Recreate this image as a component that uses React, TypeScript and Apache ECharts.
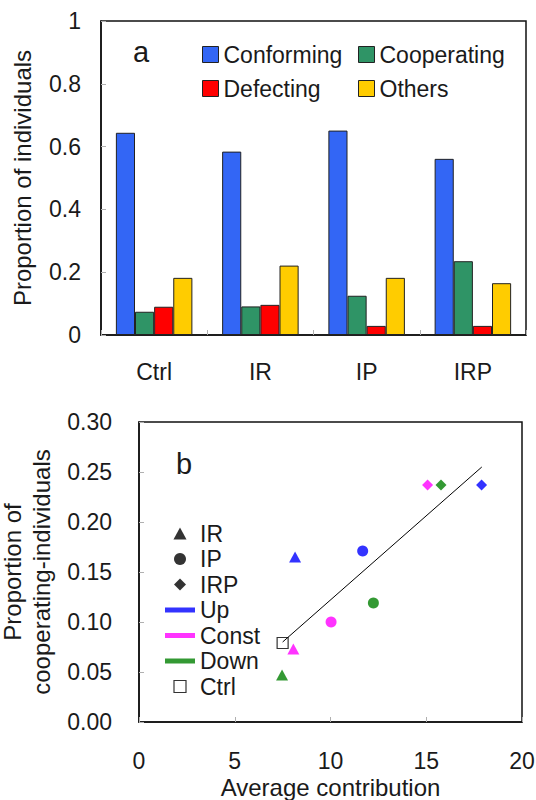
import React, { useEffect, useRef } from "react";
import * as echarts from "echarts";

// ---------- Panel a data ----------
const groups = ["Ctrl", "IR", "IP", "IRP"];
const conforming = [0.644, 0.584, 0.651, 0.561];
const cooperating = [0.074, 0.091, 0.125, 0.235];
const defecting = [0.090, 0.096, 0.029, 0.029];
const others = [0.182, 0.221, 0.182, 0.165];

// ---------- Panel b data (order: Up, Const, Down) ----------
const treatmentNames = ["Up", "Const", "Down"];
const irContribution = [8.15, 8.06, 7.47];
const irCooperation = [0.165, 0.073, 0.047];
const ipContribution = [11.68, 10.03, 12.24];
const ipCooperation = [0.171, 0.1, 0.119];
const irpContribution = [17.89, 15.07, 15.77];
const irpCooperation = [0.237, 0.237, 0.237];
const ctrlContribution = [7.5];
const ctrlCooperation = [0.079];
const fitX = [7.5, 17.9];
const fitY = [0.08, 0.255];

const FONT = "Liberation Sans, Arial, Helvetica, sans-serif";
const TXT = "#1a1a1a";
const treatColors = ["#0000ff", "#ff00ff", "#008000"];

const TRI = "path://M6,0L12,11L0,11Z";
const DIA = "path://M6,0L12,6L6,12L0,6Z";
const SQR = "path://M0,0H10V10H0Z";
const BAR = "path://M0,0H30V5H0Z";

function pts(xs: number[], ys: number[]) {
  return xs.map((x, i) => ({
    value: [x, ys[i]],
    itemStyle: { color: treatColors[i] },
  }));
}

export default function App() {
  const ref = useRef<HTMLDivElement>(null);
  useEffect(() => {
    if (!ref.current) return;
    const chart = echarts.init(ref.current, undefined, { renderer: "svg" });
    const tick = { show: true, inside: true, length: 5, lineStyle: { color: "#b0b0b0", width: 1 } };
    const barBorder = { borderColor: "#222", borderWidth: 1 };
    chart.setOption({
      animation: false,
      backgroundColor: "#fff",
      textStyle: { fontFamily: FONT },
      title: [
        { text: "a", left: 133, top: 37, padding: 0, textStyle: { fontSize: 29, fontWeight: "normal", color: TXT, fontFamily: FONT } },
        { text: "b", left: 176, top: 449, padding: 0, textStyle: { fontSize: 29, fontWeight: "normal", color: TXT, fontFamily: FONT } },
      ],
      grid: [
        { left: 101, top: 21, width: 425, height: 314, show: true, borderColor: "#111", borderWidth: 1.5, backgroundColor: "#fff", outerBoundsMode: "none", containLabel: false },
        { left: 139, top: 422, width: 383, height: 300, show: true, borderColor: "#111", borderWidth: 1.5, backgroundColor: "#fff", outerBoundsMode: "none", containLabel: false },
      ],
      legend: [
        {
          orient: "vertical", left: 202, top: 43, padding: 0, itemGap: 11, itemWidth: 16, itemHeight: 16, icon: "rect",
          itemTextGap: 5,
          itemStyle: { borderColor: "#222", borderWidth: 1 },
          textStyle: { fontSize: 23, color: TXT, fontFamily: FONT, lineHeight: 23 },
          data: ["Conforming", "Defecting"],
        },
        {
          orient: "vertical", left: 358, top: 43, padding: 0, itemGap: 11, itemWidth: 16, itemHeight: 16, icon: "rect",
          itemTextGap: 5,
          itemStyle: { borderColor: "#222", borderWidth: 1 },
          textStyle: { fontSize: 23, color: TXT, fontFamily: FONT, lineHeight: 23 },
          data: ["Cooperating", "Others"],
        },
        {
          orient: "vertical", left: 165, top: 522, padding: 0, itemGap: 2.5, itemWidth: 30, itemHeight: 12,
          itemTextGap: 8,
          textStyle: { fontSize: 23, color: TXT, fontFamily: FONT, lineHeight: 23 },
          data: [
            { name: "IR", icon: TRI, itemStyle: { color: "#000", borderWidth: 0 } },
            { name: "IP", icon: "circle", itemStyle: { color: "#000", borderWidth: 0 } },
            { name: "IRP", icon: DIA, itemStyle: { color: "#000", borderWidth: 0 } },
            { name: treatmentNames[0], icon: BAR, itemStyle: { color: treatColors[0] } },
            { name: treatmentNames[1], icon: BAR, itemStyle: { color: treatColors[1] } },
            { name: treatmentNames[2], icon: BAR, itemStyle: { color: treatColors[2] } },
            { name: "Ctrl", icon: SQR, itemStyle: { color: "#fff", borderColor: "#000", borderWidth: 1.2 } },
          ],
        },
      ],
      xAxis: [
        {
          type: "category", gridIndex: 0, data: groups,
          axisLine: { show: true, lineStyle: { color: "#111", width: 1.5 } },
          axisTick: tick,
          axisLabel: { fontSize: 23, color: TXT, margin: 25, fontFamily: FONT },
          splitLine: { show: false },
        },
        {
          type: "value", gridIndex: 1, min: 0, max: 20, interval: 5,
          axisLine: { show: true, lineStyle: { color: "#111", width: 1.5 } },
          axisTick: tick,
          axisLabel: { fontSize: 23, color: TXT, margin: 27, fontFamily: FONT },
          splitLine: { show: false },
          name: "Average contribution", nameLocation: "middle", nameGap: 53,
          nameTextStyle: { fontSize: 24, color: TXT, fontFamily: FONT },
        },
      ],
      yAxis: [
        {
          type: "value", gridIndex: 0, min: 0, max: 1, interval: 0.2,
          axisLine: { show: true, lineStyle: { color: "#111", width: 1.5 } },
          axisTick: tick,
          axisLabel: { fontSize: 23, color: TXT, margin: 20, fontFamily: FONT },
          splitLine: { show: false },
          name: "Proportion of individuals", nameLocation: "middle", nameRotate: 90, nameGap: 67,
          nameTextStyle: { fontSize: 24, color: TXT, fontFamily: FONT },
        },
        {
          type: "value", gridIndex: 1, min: 0, max: 0.3, interval: 0.05,
          axisLine: { show: true, lineStyle: { color: "#111", width: 1.5 } },
          axisTick: tick,
          axisLabel: { fontSize: 23, color: TXT, margin: 27, fontFamily: FONT, formatter: (v: number) => v.toFixed(2) },
          splitLine: { show: false },
          name: "Proportion of\ncooperating-individuals", nameLocation: "middle", nameRotate: 90, nameGap: 75,
          nameTextStyle: { fontSize: 24, color: TXT, fontFamily: FONT, lineHeight: 29 },
        },
      ],
      series: [
        { name: "Conforming", type: "bar", xAxisIndex: 0, yAxisIndex: 0, data: conforming, barGap: "0%", barCategoryGap: "28%", itemStyle: { color: "#3366f5", ...barBorder } },
        { name: "Cooperating", type: "bar", xAxisIndex: 0, yAxisIndex: 0, data: cooperating, barGap: "0%", barCategoryGap: "28%", itemStyle: { color: "#2f9466", ...barBorder } },
        { name: "Defecting", type: "bar", xAxisIndex: 0, yAxisIndex: 0, data: defecting, barGap: "0%", barCategoryGap: "28%", itemStyle: { color: "#ff0000", ...barBorder } },
        { name: "Others", type: "bar", xAxisIndex: 0, yAxisIndex: 0, data: others, barGap: "0%", barCategoryGap: "28%", itemStyle: { color: "#ffcc00", ...barBorder } },
        {
          name: "fit", type: "line", xAxisIndex: 1, yAxisIndex: 1, showSymbol: false, symbol: "none",
          data: fitX.map((x, i) => [x, fitY[i]]),
          lineStyle: { color: "#000", width: 1 }, z: 1,
        },
        { name: "IR", type: "scatter", xAxisIndex: 1, yAxisIndex: 1, symbol: TRI, symbolSize: [12, 11], data: pts(irContribution, irCooperation), z: 3 },
        { name: "IP", type: "scatter", xAxisIndex: 1, yAxisIndex: 1, symbol: "circle", symbolSize: 11, data: pts(ipContribution, ipCooperation), z: 3 },
        { name: "IRP", type: "scatter", xAxisIndex: 1, yAxisIndex: 1, symbol: DIA, symbolSize: [11, 11], data: pts(irpContribution, irpCooperation), z: 3 },
        {
          name: "Ctrl", type: "scatter", xAxisIndex: 1, yAxisIndex: 1, symbol: "rect", symbolSize: 11,
          data: ctrlContribution.map((x, i) => [x, ctrlCooperation[i]]),
          itemStyle: { color: "rgba(255,255,255,0)", borderColor: "#000", borderWidth: 1.2 }, z: 4,
        },
        { name: treatmentNames[0], type: "scatter", xAxisIndex: 1, yAxisIndex: 1, data: [], itemStyle: { color: treatColors[0] } },
        { name: treatmentNames[1], type: "scatter", xAxisIndex: 1, yAxisIndex: 1, data: [], itemStyle: { color: treatColors[1] } },
        { name: treatmentNames[2], type: "scatter", xAxisIndex: 1, yAxisIndex: 1, data: [], itemStyle: { color: treatColors[2] } },
      ],
    });
    return () => chart.dispose();
  }, []);
  return <div ref={ref} style={{ position: "absolute", left: 0, top: 0, width: 536, height: 800 }} />;
}
